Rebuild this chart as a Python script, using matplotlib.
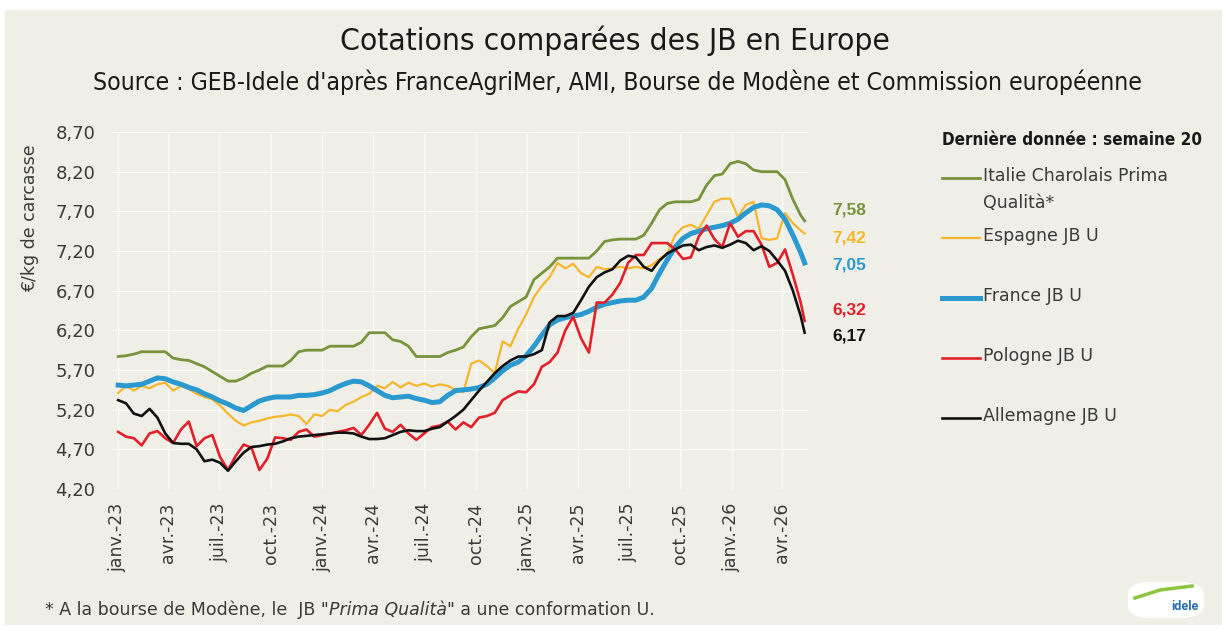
import numpy as np
import pandas as pd
import matplotlib
matplotlib.use('Agg')
import matplotlib.pyplot as plt
from matplotlib.lines import Line2D
from matplotlib.patches import Rectangle, FancyBboxPatch
from matplotlib import font_manager
from matplotlib.font_manager import FontProperties

W, H = 1228, 630

# semaines depuis le 2 janvier 2023 (pas de 2 semaines, derniere = semaine 20 de 2026)
weeks = list(range(0, 175, 2)) + [175]
dates = pd.Timestamp('2023-01-02') + pd.to_timedelta(np.array(weeks) * 7, unit='D')

italie = [5.87, 5.88, 5.90, 5.93, 5.93, 5.93, 5.93, 5.85, 5.83, 5.82,
          5.78, 5.74, 5.68, 5.62, 5.56, 5.56, 5.60, 5.66, 5.70, 5.75,
          5.75, 5.75, 5.82, 5.93, 5.95, 5.95, 5.95, 6.00, 6.00, 6.00,
          6.00, 6.05, 6.17, 6.17, 6.17, 6.08, 6.06, 6.00, 5.87, 5.87,
          5.87, 5.87, 5.92, 5.95, 5.99, 6.12, 6.22, 6.24, 6.26, 6.36,
          6.50, 6.56, 6.62, 6.84, 6.92, 7.00, 7.11, 7.11, 7.11, 7.11,
          7.11, 7.20, 7.32, 7.34, 7.35, 7.35, 7.35, 7.40, 7.55, 7.72,
          7.80, 7.82, 7.82, 7.82, 7.85, 8.03, 8.15, 8.17, 8.30, 8.33,
          8.30, 8.22, 8.20, 8.20, 8.20, 8.10, 7.85, 7.65, 7.58]
espagne = [5.41, 5.50, 5.44, 5.50, 5.47, 5.52, 5.54, 5.44, 5.50, 5.46,
           5.40, 5.36, 5.33, 5.25, 5.15, 5.06, 5.00, 5.04, 5.06, 5.09,
           5.11, 5.12, 5.14, 5.12, 5.02, 5.14, 5.12, 5.20, 5.18, 5.26,
           5.30, 5.36, 5.40, 5.50, 5.47, 5.55, 5.48, 5.54, 5.50, 5.53,
           5.49, 5.52, 5.50, 5.45, 5.42, 5.78, 5.82, 5.75, 5.66, 6.06,
           6.00, 6.22, 6.40, 6.62, 6.76, 6.87, 7.05, 6.98, 7.04, 6.92,
           6.87, 7.00, 6.97, 6.98, 7.00, 6.98, 7.00, 6.98, 7.02, 7.10,
           7.17, 7.40, 7.50, 7.53, 7.48, 7.65, 7.82, 7.86, 7.86, 7.63,
           7.78, 7.82, 7.36, 7.34, 7.36, 7.68, 7.55, 7.46, 7.42]
france = [5.51, 5.50, 5.51, 5.52, 5.56, 5.60, 5.59, 5.55, 5.52, 5.48,
          5.45, 5.40, 5.36, 5.31, 5.27, 5.22, 5.19, 5.25, 5.31, 5.34,
          5.36, 5.36, 5.36, 5.38, 5.38, 5.39, 5.41, 5.44, 5.49, 5.53,
          5.56, 5.55, 5.50, 5.44, 5.38, 5.35, 5.36, 5.37, 5.34, 5.32,
          5.29, 5.30, 5.38, 5.44, 5.45, 5.46, 5.48, 5.52, 5.60, 5.69,
          5.76, 5.80, 5.88, 6.00, 6.14, 6.27, 6.33, 6.36, 6.38, 6.40,
          6.44, 6.49, 6.53, 6.55, 6.57, 6.58, 6.58, 6.62, 6.73, 6.92,
          7.09, 7.25, 7.36, 7.42, 7.45, 7.48, 7.50, 7.52, 7.55, 7.60,
          7.68, 7.75, 7.78, 7.77, 7.72, 7.60, 7.40, 7.18, 7.05]
pologne = [4.92, 4.86, 4.84, 4.75, 4.90, 4.93, 4.84, 4.78, 4.95, 5.05,
           4.74, 4.84, 4.88, 4.60, 4.44, 4.62, 4.76, 4.72, 4.44, 4.58,
           4.85, 4.84, 4.82, 4.92, 4.95, 4.86, 4.88, 4.90, 4.92, 4.94,
           4.97, 4.88, 5.01, 5.16, 4.96, 4.92, 5.01, 4.90, 4.82, 4.90,
           4.98, 5.00, 5.05, 4.95, 5.04, 4.98, 5.10, 5.12, 5.16, 5.32,
           5.38, 5.43, 5.42, 5.52, 5.74, 5.80, 5.92, 6.20, 6.37, 6.10,
           5.92, 6.55, 6.55, 6.65, 6.80, 7.05, 7.15, 7.15, 7.30, 7.30,
           7.30, 7.22, 7.10, 7.12, 7.38, 7.52, 7.35, 7.25, 7.55, 7.38,
           7.45, 7.45, 7.28, 7.00, 7.05, 7.22, 6.90, 6.55, 6.32]
allemagne = [5.32, 5.28, 5.15, 5.12, 5.21, 5.10, 4.90, 4.78, 4.77, 4.77,
             4.70, 4.55, 4.57, 4.53, 4.43, 4.55, 4.66, 4.73, 4.74, 4.76,
             4.77, 4.80, 4.84, 4.86, 4.87, 4.88, 4.89, 4.90, 4.91, 4.91,
             4.90, 4.86, 4.83, 4.83, 4.84, 4.88, 4.92, 4.94, 4.93, 4.93,
             4.96, 4.98, 5.05, 5.12, 5.20, 5.32, 5.44, 5.55, 5.66, 5.75,
             5.82, 5.87, 5.87, 5.90, 5.95, 6.30, 6.38, 6.38, 6.42, 6.58,
             6.75, 6.87, 6.93, 6.97, 7.08, 7.14, 7.12, 7.00, 6.95, 7.08,
             7.17, 7.22, 7.27, 7.28, 7.21, 7.25, 7.27, 7.24, 7.28, 7.33,
             7.30, 7.21, 7.26, 7.20, 7.08, 6.95, 6.70, 6.38, 6.17]

series = [
    ('Italie Charolais Prima\nQualità*', italie, '#77933C', 2.0),
    ('Espagne JB U', espagne, '#F6B62B', 1.6),
    ('France JB U', france, '#2A99D0', 3.6),
    ('Pologne JB U', pologne, '#E3202A', 1.9),
    ('Allemagne JB U', allemagne, '#111111', 1.9),
]

y_ticks = [4.20, 4.70, 5.20, 5.70, 6.20, 6.70, 7.20, 7.70, 8.20, 8.70]
x_ticks = pd.date_range('2023-01-01', '2026-04-01', freq='QS')
mois = {1: 'janv.', 4: 'avr.', 7: 'juil.', 10: 'oct.'}
x_labels = [f'{mois[d.month]}-{d.strftime("%y")}' for d in x_ticks]

# police etroite pour les titres si disponible
narrow_files = [f for f in font_manager.fontManager.ttflist
                if ('Condensed' in f.name or 'Narrow' in f.name or 'condensed' in str(f.stretch))
                and f.style == 'normal']
if narrow_files:
    reg = [f for f in narrow_files if f.weight in (400, 'normal', 'regular')] or narrow_files
    bold = [f for f in narrow_files if f.weight in (700, 'bold')] or reg
    fp_title = FontProperties(fname=reg[0].fname)
    fp_bold = FontProperties(fname=bold[0].fname)
else:
    fp_title = FontProperties(family='Roboto')
    fp_bold = FontProperties(family='Roboto', weight='bold')

body = 'DejaVu Sans'
bg = '#EFEFE7'
txt = '#3A3A3A'

fig = plt.figure(figsize=(W / 100, H / 100), dpi=100)
fig.patch.set_facecolor('white')
fig.add_artist(Rectangle((5 / W, 5 / H), 1217 / W, 615 / H, transform=fig.transFigure,
                         facecolor=bg, edgecolor='none', zorder=-10))

ax = fig.add_axes([112 / W, 1 - 489 / H, 696 / W, 357 / H])
ax.set_facecolor(bg)
for name, vals, col, lw in series:
    ax.plot(dates, vals, color=col, lw=lw, solid_joinstyle='round', label=name)

ax.set_ylim(4.2, 8.7)
ax.set_xlim(pd.Timestamp('2022-12-22'), pd.Timestamp('2026-05-17'))
ax.set_yticks(y_ticks)
ax.set_yticklabels([f'{v:.2f}'.replace('.', ',') for v in y_ticks],
                   fontfamily=body, fontsize=13, color=txt)
ax.set_xticks(x_ticks)
ax.set_xticklabels(x_labels, rotation=90, fontfamily=body, fontsize=12.5, color=txt)
ax.tick_params(length=0)
ax.tick_params(axis='y', pad=12)
ax.tick_params(axis='x', pad=10)
ax.grid(color='#FBFBF8', lw=0.9)
ax.set_axisbelow(True)
for s in ax.spines.values():
    s.set_visible(False)

fig.text(30 / W, 1 - 218 / H, '€/kg de carcasse', rotation=90, ha='center', va='center',
         fontfamily=body, fontsize=12.5, color=txt)

# valeurs de la derniere semaine
offsets = [11, -4, -2, 11, -3]
for (name, vals, col, lw), dy in zip(series, offsets):
    ax.annotate(f'{vals[-1]:.2f}'.replace('.', ','), xy=(dates[-1], vals[-1]),
                xytext=(28, dy), textcoords='offset pixels', ha='left', va='center',
                fontfamily='Liberation Sans', fontweight='bold', fontsize=12.5,
                color=col, annotation_clip=False)

renderer = fig.canvas.get_renderer()


def fit(t, width_px):
    w = t.get_window_extent(renderer).width
    t.set_fontsize(t.get_fontsize() * width_px / w)


title = fig.text(615 / W, 1 - 41 / H, 'Cotations comparées des JB en Europe', ha='center',
                 va='center', fontproperties=fp_title, fontsize=24, color='#1A1A1A')
fit(title, 550)
sub = fig.text(617 / W, 1 - 82 / H,
               "Source : GEB-Idele d'après FranceAgriMer, AMI, Bourse de Modène et Commission européenne",
               ha='center', va='center', fontproperties=fp_title, fontsize=17, color='#1A1A1A')
fit(sub, 1045)

# legende
lt = fig.text(942 / W, 1 - 140 / H, 'Dernière donnée : semaine 20', ha='left', va='center',
              fontproperties=fp_bold, fontsize=14, color='#1A1A1A')
fit(lt, 262)
leg_y = [178, 238, 298, 358, 418]
for (name, vals, col, lw), yy in zip(series, leg_y):
    fig.add_artist(Line2D([942 / W, 980 / W], [1 - yy / H, 1 - yy / H], color=col, lw=lw,
                          transform=fig.transFigure))
    fig.text(983 / W, 1 - (yy - 11) / H, name, ha='left', va='top', fontfamily=body,
             fontsize=12.5, color=txt, linespacing=1.65)

# note de bas de page
fs_note = 12.5
t1 = fig.text(45 / W, 1 - 610 / H, '* A la bourse de Modène, le  JB "', ha='left', va='center',
              fontfamily=body, fontsize=fs_note, color=txt)
t2 = ax.annotate('Prima Qualità', xy=(1, 0), xycoords=t1, ha='left', va='bottom',
                 fontfamily=body, fontstyle='italic', fontsize=fs_note, color=txt,
                 annotation_clip=False)
ax.annotate('" a une conformation U.', xy=(1, 0), xycoords=t2, ha='left', va='bottom',
            fontfamily=body, fontsize=fs_note, color=txt, annotation_clip=False)

# logo
fig.add_artist(FancyBboxPatch((1128 / W, 1 - 618 / H), 76 / W, 36 / H,
                              boxstyle='round,pad=0,rounding_size=0.02',
                              transform=fig.transFigure, facecolor='white', edgecolor='none'))
fig.add_artist(Line2D([1135 / W, 1160 / W, 1192 / W], [1 - 598 / H, 1 - 590 / H, 1 - 586 / H],
                      color='#8DC63F', lw=2.5, transform=fig.transFigure))
fig.text(1185 / W, 1 - 606 / H, 'idele', ha='center', va='center', fontfamily='Roboto',
         fontweight='bold', fontsize=9, color='#2B6CB0')

fig.savefig('out.png', dpi=100, facecolor=fig.get_facecolor())
